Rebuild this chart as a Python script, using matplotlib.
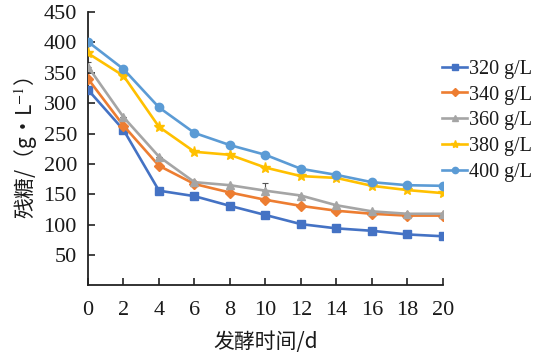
import matplotlib
matplotlib.use("Agg")
import matplotlib.pyplot as plt

plt.rcParams["font.family"] = "Liberation Serif"
plt.rcParams["mathtext.fontset"] = "stix"

days = [0, 2, 4, 6, 8, 10, 12, 14, 16, 18, 20]
labels = ["320 g/L", "340 g/L", "360 g/L", "380 g/L", "400 g/L"]
s320 = [322, 256, 156, 147, 131, 116, 101, 94, 90, 84, 81]
s340 = [340, 263, 197, 167, 153, 141, 131, 123, 118, 115, 115]
s360 = [360, 277, 212, 170, 165, 156, 148, 132, 122, 118, 118]
s380 = [382, 345, 261, 220, 215, 194, 180, 177, 164, 157, 152]
s400 = [401, 356, 293, 251, 231, 215, 192, 182, 170, 165, 164]
err360 = [8, 0, 0, 0, 0, 12, 0, 0, 0, 0, 0]
series = [s320, s340, s360, s380, s400]
colors = ["#4472C4", "#ED7D31", "#A5A5A5", "#FFC000", "#5B9BD5"]
markers = ["s", "D", "^", "*", "o"]
msizes = [6, 5, 6, 8, 6]

cjk = ["Noto Sans CJK SC", "Liberation Serif"]
txtc = "#1a1a1a"

fig = plt.figure(figsize=(5.4, 3.57), dpi=100)
ax = fig.add_axes([0.163, 0.2003, 0.657, 0.7661])

handles = []
for i, (vals, lab) in enumerate(zip(series, labels)):
    if i == 2:
        ax.errorbar(days, vals, yerr=[[0]*len(days), err360], fmt="none",
                    ecolor="#555555", elinewidth=0.8, capsize=2.5, capthick=0.8,
                    zorder=2)
    h, = ax.plot(days, vals, color=colors[i], lw=1.9, marker=markers[i],
                 ms=msizes[i], label=lab, zorder=3)
    handles.append(h)

ax.set_xlim(0, 20)
ax.set_ylim(0, 450)
ax.set_xticks(days)
ax.set_yticks([50, 100, 150, 200, 250, 300, 350, 400, 450])
ax.spines["top"].set_visible(False)
ax.spines["right"].set_visible(False)
for sp in ["left", "bottom"]:
    ax.spines[sp].set_linewidth(1.3)
    ax.spines[sp].set_color("#222222")
ax.tick_params(axis="x", direction="in", length=5, width=1.2, pad=11,
               colors="#222222", labelcolor=txtc, labelsize=16)
ax.tick_params(axis="y", direction="in", length=5, width=1.2, pad=8,
               colors="#222222", labelcolor=txtc, labelsize=16)

ax.set_xlabel("发酵时间/d", fontsize=15, family=cjk, color=txtc, labelpad=8)
ax.set_ylabel("残糖/（g•L$^{-1}$）", fontsize=15, family=cjk, color=txtc, labelpad=3)

leg = ax.legend(handles=handles, labels=labels, loc="upper left",
                bbox_to_anchor=(0.975, 0.855), frameon=False,
                prop={"family": "Liberation Serif", "size": 14.5}, handlelength=1.25,
                handletextpad=0.1, labelspacing=0.33, borderaxespad=0,
                markerscale=0.75, labelcolor=txtc)

fig.savefig("out.png", dpi=100)
